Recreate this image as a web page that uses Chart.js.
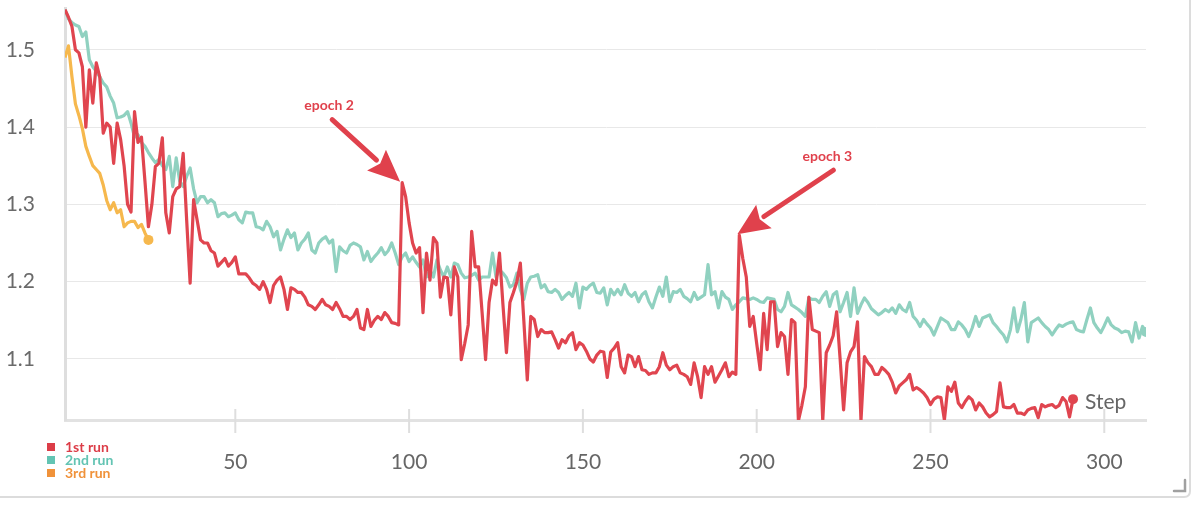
<!DOCTYPE html>
<html>
<head>
<meta charset="utf-8">
<script src="https://cdn.jsdelivr.net/npm/chart.js@4.4.1/dist/chart.umd.min.js"></script>
<style>
  html, body { margin: 0; padding: 0; background: #fff; }
  #wrap { position: relative; width: 1199px; height: 505px; }
</style>
</head>
<body>
<div id="wrap"><canvas id="lossChart"></canvas></div>
<script>
// loss per step, step = index + 1
const run1Loss = [
  1.552, 1.542, 1.530, 1.500, 1.496, 1.478, 1.400, 1.474, 1.431, 1.483,
  1.465, 1.392, 1.405, 1.400, 1.353, 1.405, 1.384, 1.350, 1.300, 1.290,
  1.420, 1.380, 1.387, 1.330, 1.271, 1.300, 1.349, 1.353, 1.386, 1.289,
  1.263, 1.310, 1.320, 1.323, 1.366, 1.280, 1.198, 1.306, 1.280, 1.254,
  1.250, 1.250, 1.240, 1.237, 1.220, 1.225, 1.230, 1.220, 1.225, 1.232,
  1.210, 1.210, 1.210, 1.205, 1.198, 1.195, 1.190, 1.200, 1.190, 1.173,
  1.195, 1.202, 1.206, 1.190, 1.164, 1.192, 1.190, 1.186, 1.186, 1.180,
  1.170, 1.168, 1.164, 1.170, 1.177, 1.170, 1.168, 1.164, 1.173, 1.165,
  1.155, 1.155, 1.151, 1.155, 1.164, 1.140, 1.138, 1.164, 1.142, 1.150,
  1.155, 1.151, 1.160, 1.155, 1.147, 1.146, 1.144, 1.328, 1.310, 1.276,
  1.250, 1.237, 1.244, 1.160, 1.237, 1.202, 1.257, 1.250, 1.180, 1.206,
  1.205, 1.157, 1.219, 1.206, 1.099, 1.120, 1.144, 1.265, 1.219, 1.219,
  1.160, 1.099, 1.173, 1.202, 1.196, 1.237, 1.170, 1.108, 1.173, 1.186,
  1.200, 1.224, 1.150, 1.073, 1.155, 1.151, 1.129, 1.138, 1.134, 1.134,
  1.135, 1.125, 1.114, 1.125, 1.121, 1.130, 1.134, 1.112, 1.121, 1.118,
  1.110, 1.100, 1.096, 1.105, 1.110, 1.109, 1.076, 1.109, 1.114, 1.121,
  1.090, 1.082, 1.105, 1.103, 1.090, 1.103, 1.086, 1.085, 1.080, 1.082,
  1.082, 1.090, 1.108, 1.092, 1.086, 1.090, 1.092, 1.082, 1.080, 1.077,
  1.067, 1.095, 1.077, 1.050, 1.090, 1.080, 1.090, 1.070, 1.078, 1.086,
  1.095, 1.077, 1.083, 1.080, 1.260, 1.230, 1.206, 1.142, 1.155, 1.120,
  1.086, 1.159, 1.112, 1.174, 1.174, 1.116, 1.134, 1.129, 1.080, 1.151,
  1.147, 1.020, 1.040, 1.064, 1.180, 1.138, 1.136, 1.134, 1.020, 1.108,
  1.118, 1.130, 1.161, 1.100, 1.034, 1.095, 1.109, 1.116, 1.148, 1.020,
  1.103, 1.095, 1.090, 1.080, 1.080, 1.089, 1.085, 1.080, 1.070, 1.056,
  1.065, 1.069, 1.073, 1.080, 1.060, 1.063, 1.060, 1.056, 1.050, 1.041,
  1.048, 1.051, 1.050, 1.021, 1.064, 1.058, 1.070, 1.043, 1.037, 1.045,
  1.051, 1.047, 1.034, 1.043, 1.038, 1.030, 1.025, 1.028, 1.032, 1.069,
  1.038, 1.037, 1.037, 1.041, 1.030, 1.030, 1.028, 1.034, 1.036, 1.037,
  1.024, 1.041, 1.038, 1.040, 1.041, 1.037, 1.040, 1.050, 1.045, 1.025,
  1.048
];

const run2Loss = [
  1.552, 1.540, 1.535, 1.532, 1.530, 1.517, 1.523, 1.487, 1.478, 1.472,
  1.465, 1.457, 1.452, 1.440, 1.431, 1.412, 1.413, 1.415, 1.420, 1.405,
  1.387, 1.390, 1.380, 1.375, 1.367, 1.360, 1.354, 1.358, 1.350, 1.345,
  1.362, 1.323, 1.360, 1.330, 1.323, 1.336, 1.347, 1.320, 1.302, 1.310,
  1.310, 1.302, 1.306, 1.302, 1.284, 1.288, 1.289, 1.284, 1.286, 1.289,
  1.280, 1.276, 1.290, 1.289, 1.289, 1.271, 1.270, 1.267, 1.278, 1.271,
  1.258, 1.265, 1.241, 1.255, 1.267, 1.257, 1.263, 1.241, 1.250, 1.255,
  1.263, 1.241, 1.237, 1.250, 1.255, 1.258, 1.250, 1.254, 1.213, 1.245,
  1.240, 1.237, 1.247, 1.250, 1.248, 1.245, 1.228, 1.239, 1.226, 1.232,
  1.237, 1.244, 1.235, 1.240, 1.250, 1.237, 1.222, 1.232, 1.237, 1.226,
  1.232, 1.225, 1.219, 1.228, 1.206, 1.215, 1.206, 1.228, 1.215, 1.206,
  1.219, 1.206, 1.224, 1.222, 1.211, 1.205, 1.206, 1.208, 1.211, 1.202,
  1.206, 1.206, 1.206, 1.237, 1.206, 1.215, 1.211, 1.205, 1.193, 1.196,
  1.211, 1.190, 1.177, 1.198, 1.206, 1.207, 1.209, 1.192, 1.196, 1.187,
  1.186, 1.190, 1.186, 1.177, 1.182, 1.186, 1.181, 1.198, 1.166, 1.193,
  1.190, 1.195, 1.198, 1.186, 1.185, 1.192, 1.170, 1.190, 1.183, 1.190,
  1.183, 1.196, 1.185, 1.181, 1.186, 1.174, 1.183, 1.187, 1.174, 1.166,
  1.180, 1.193, 1.181, 1.206, 1.174, 1.187, 1.186, 1.190, 1.181, 1.178,
  1.174, 1.186, 1.177, 1.180, 1.183, 1.222, 1.183, 1.187, 1.166, 1.187,
  1.180, 1.177, 1.164, 1.170, 1.174, 1.179, 1.178, 1.177, 1.179, 1.177,
  1.174, 1.173, 1.179, 1.178, 1.177, 1.164, 1.161, 1.168, 1.186, 1.170,
  1.167, 1.164, 1.160, 1.155, 1.179, 1.177, 1.177, 1.173, 1.181, 1.187,
  1.168, 1.183, 1.187, 1.161, 1.173, 1.186, 1.155, 1.192, 1.159, 1.170,
  1.179, 1.173, 1.165, 1.161, 1.157, 1.160, 1.164, 1.161, 1.166, 1.159,
  1.170, 1.164, 1.161, 1.173, 1.155, 1.150, 1.142, 1.151, 1.145, 1.140,
  1.131, 1.142, 1.153, 1.150, 1.147, 1.138, 1.138, 1.148, 1.144, 1.138,
  1.129, 1.140, 1.155, 1.142, 1.153, 1.155, 1.157, 1.147, 1.142, 1.136,
  1.131, 1.122, 1.138, 1.166, 1.135, 1.151, 1.173, 1.122, 1.147, 1.150,
  1.153, 1.147, 1.142, 1.138, 1.131, 1.138, 1.144, 1.142, 1.145, 1.147,
  1.148, 1.138, 1.136, 1.135, 1.151, 1.166, 1.147, 1.140, 1.134, 1.143,
  1.153, 1.144, 1.140, 1.138, 1.134, 1.136, 1.135, 1.122, 1.147, 1.127,
  1.142, 1.135
];

const run3Loss = [
  1.490, 1.505, 1.465, 1.430, 1.415, 1.398, 1.375, 1.362, 1.350, 1.345,
  1.340, 1.325, 1.305, 1.293, 1.302, 1.289, 1.293, 1.271, 1.276, 1.278,
  1.278, 1.270, 1.274, 1.263, 1.254
];

const runNames = ['1st run', '2nd run', '3rd run'];
const lineColors = ['#e0454f', '#90d1c0', '#f6b84d'];
const legendColors = ['#dc3d48', '#63c4b3', '#f0923a'];

const xTicks = [50, 100, 150, 200, 250, 300];
const yTicks = [1.1, 1.2, 1.3, 1.4, 1.5];

// arrows pointing at the epoch restarts of the 1st run
const epochNotes = [
  { text: 'epoch 2', step: 98, dx: -68, dy: -62, tx: -71, ty: -76 },
  { text: 'epoch 3', step: 195, dx: 96, dy: -64, tx: 90, ty: -78 }
];

function toPoints(arr) {
  return arr.map(function (v, i) { return { x: i + 1, y: v }; });
}

function lastDot(ctx) {
  return ctx.dataIndex === ctx.dataset.data.length - 1 ? 5 : 0;
}

const allRuns = [run1Loss, run2Loss, run3Loss];
const datasets = allRuns.map(function (arr, i) {
  return {
    label: runNames[i],
    data: toPoints(arr),
    borderColor: lineColors[i],
    backgroundColor: lineColors[i],
    borderWidth: 3.2,
    borderJoinStyle: 'round',
    pointRadius: lastDot,
    pointHoverRadius: lastDot,
    pointBorderWidth: 0,
    tension: 0,
    order: i
  };
});

function drawArrow(ctx, x1, y1, x2, y2) {
  const ang = Math.atan2(y2 - y1, x2 - x1);
  const headLen = 32, headW = 14;
  const bx = x2 - headLen * Math.cos(ang), by = y2 - headLen * Math.sin(ang);
  ctx.beginPath();
  ctx.moveTo(x1, y1);
  ctx.lineTo(bx, by);
  ctx.lineWidth = 5;
  ctx.lineCap = 'round';
  ctx.stroke();
  ctx.beginPath();
  ctx.moveTo(x2, y2);
  ctx.lineTo(bx + headW * Math.sin(ang), by - headW * Math.cos(ang));
  ctx.lineTo(bx + 5 * Math.cos(ang), by + 5 * Math.sin(ang));
  ctx.lineTo(bx - headW * Math.sin(ang), by + headW * Math.cos(ang));
  ctx.closePath();
  ctx.fill();
}

const extras = {
  id: 'extras',
  afterDraw: function (chart) {
    const ctx = chart.ctx;
    const xs = chart.scales.x, ys = chart.scales.y;
    const area = chart.chartArea;
    ctx.save();

    // tick marks across the x axis line
    ctx.strokeStyle = '#dedede';
    ctx.lineWidth = 2;
    xTicks.forEach(function (t) {
      const px = xs.getPixelForValue(t);
      ctx.beginPath();
      ctx.moveTo(px, area.bottom - 11);
      ctx.lineTo(px, area.bottom + 13);
      ctx.stroke();
    });

    // "Step" axis title inside the plot
    ctx.fillStyle = '#666';
    ctx.font = '21px Lato';
    ctx.textAlign = 'left';
    ctx.textBaseline = 'middle';
    ctx.fillText('Step', 1085, 402);

    // epoch annotations
    ctx.fillStyle = '#e0414c';
    ctx.strokeStyle = '#e0414c';
    epochNotes.forEach(function (n) {
      const tipX = xs.getPixelForValue(n.step) - 2;
      const tipY = ys.getPixelForValue(run1Loss[n.step - 1]) - 1;
      drawArrow(ctx, tipX + n.dx, tipY + n.dy, tipX, tipY);
      ctx.font = 'bold 14px Lato';
      ctx.textAlign = 'center';
      ctx.fillText(n.text, tipX + n.tx, tipY + n.ty);
    });

    // legend, bottom left
    ctx.font = 'bold 14px Lato';
    ctx.textAlign = 'left';
    runNames.forEach(function (name, i) {
      const cy = 447 + i * 13;
      ctx.fillStyle = legendColors[i];
      ctx.fillRect(47, cy - 4, 8, 8);
      ctx.fillText(name, 65, cy);
    });

    // panel frame and resize handle
    ctx.strokeStyle = '#dcdcdc';
    ctx.lineWidth = 2;
    ctx.beginPath();
    ctx.moveTo(0, 497);
    ctx.lineTo(1184, 497);
    ctx.quadraticCurveTo(1190, 497, 1190, 491);
    ctx.lineTo(1190, 0);
    ctx.stroke();
    ctx.strokeStyle = '#a0a0a0';
    ctx.lineWidth = 2.5;
    ctx.beginPath();
    ctx.moveTo(1174, 491);
    ctx.lineTo(1185, 491);
    ctx.lineTo(1185, 480);
    ctx.stroke();
    ctx.restore();
  }
};

new Chart(document.getElementById('lossChart'), {
  type: 'line',
  data: { datasets: datasets },
  options: {
    responsive: true,
    maintainAspectRatio: false,
    animation: false,
    layout: { padding: { top: 8, right: 53, left: 0, bottom: 0 } },
    plugins: { legend: { display: false }, tooltip: { enabled: false } },
    scales: {
      x: {
        type: 'linear',
        min: 1,
        max: 312,
        afterBuildTicks: function (s) { s.ticks = xTicks.map(function (v) { return { value: v }; }); },
        afterFit: function (s) { s.height = 85; s.paddingLeft = 0; s.paddingRight = 0; },
        grid: { display: false, drawTicks: false },
        border: { display: true, color: '#e2e2e2', width: 3 },
        ticks: { color: '#666', font: { family: 'Lato', size: 21 }, padding: 30, maxRotation: 0 }
      },
      y: {
        min: 1.021,
        max: 1.554,
        afterBuildTicks: function (s) { s.ticks = yTicks.map(function (v) { return { value: v }; }); },
        afterFit: function (s) { s.width = 65; s.paddingTop = 0; s.paddingBottom = 0; },
        grid: { color: '#e8e8e8', lineWidth: 1, drawTicks: false },
        border: { display: true, color: '#dedede', width: 3 },
        ticks: {
          color: '#6a6a6a',
          font: { family: 'Lato', size: 21 },
          padding: 30,
          callback: function (v) { return v.toFixed(1); }
        }
      }
    }
  },
  plugins: [extras]
});
</script>
</body>
</html>
